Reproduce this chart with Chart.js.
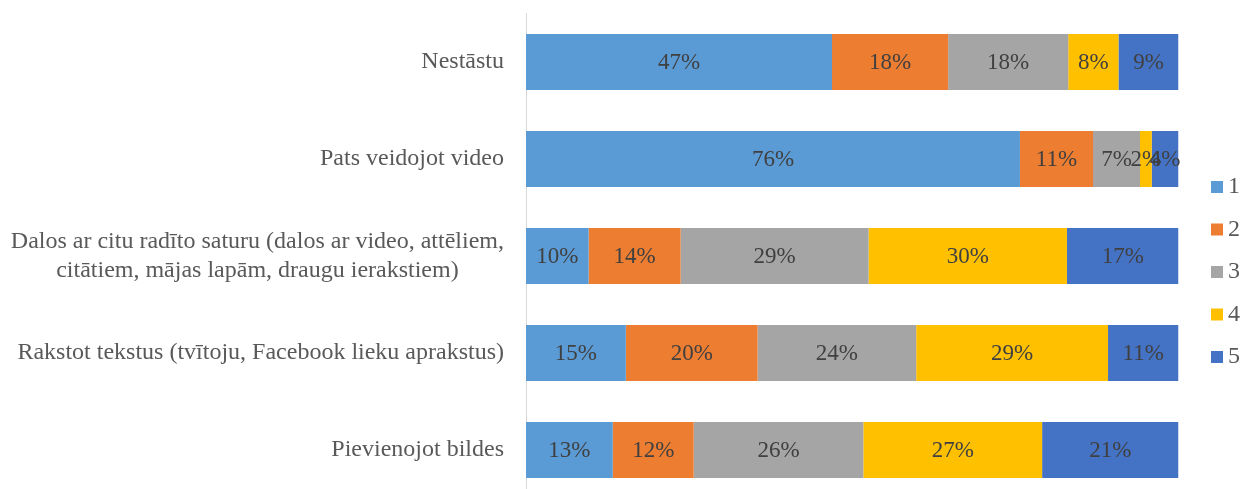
<!DOCTYPE html>
<html><head><meta charset="utf-8">
<script src="https://cdn.jsdelivr.net/npm/chart.js@4.4.1/dist/chart.umd.min.js"></script>
<style>html,body{margin:0;padding:0;overflow:hidden;background:#fff}#wrap{width:1243px;height:500px;position:relative}</style>
</head><body><div id="wrap"><canvas id="c"></canvas></div>
<script>
const categories = [
  'Nestāstu',
  'Pats veidojot video',
  ['Dalos ar citu radīto saturu (dalos ar video, attēliem,', 'citātiem, mājas lapām, draugu ierakstiem)'],
  'Rakstot tekstus (tvītoju, Facebook lieku aprakstus)',
  'Pievienojot bildes'
];
const seriesNames = ['1', '2', '3', '4', '5'];
const s1 = [46.9, 75.7, 9.6, 15.3, 13.3];
const s2 = [17.8, 11.2, 14.1, 20.2, 12.4];
const s3 = [18.4, 7.2, 28.8, 24.3, 26.0];
const s4 = [7.7, 1.8, 30.4, 29.4, 27.4];
const s5 = [9.2, 4.1, 17.1, 10.8, 20.9];
const seriesValues = [s1, s2, s3, s4, s5];
const colors = ['#5B9BD5', '#ED7D31', '#A5A5A5', '#FFC000', '#4472C4'];

const FONT = "'Liberation Serif', 'Times New Roman', serif";
const LABEL_RIGHT = 504;
const LINE_H = 29;

const labelPlugin = {
  id: 'labelPlugin',
  afterDatasetsDraw(chart) {
    const ctx = chart.ctx;
    ctx.save();
    ctx.font = '23px ' + FONT;
    ctx.textAlign = 'center';
    ctx.textBaseline = 'middle';
    ctx.fillStyle = '#404040';
    chart.data.datasets.forEach((ds, di) => {
      const meta = chart.getDatasetMeta(di);
      meta.data.forEach((el, i) => {
        ctx.fillText(Math.round(ds.data[i]) + '%', (el.x + el.base) / 2, el.y + 1);
      });
    });
    const yScale = chart.scales.y;
    ctx.font = '24px ' + FONT;
    ctx.fillStyle = '#595959';
    categories.forEach((lab, i) => {
      const lines = Array.isArray(lab) ? lab : [lab];
      const w = Math.max(...lines.map(l => ctx.measureText(l).width));
      const cx = LABEL_RIGHT - w / 2;
      const yc = yScale.getPixelForValue(i);
      lines.forEach((l, j) => ctx.fillText(l, cx, yc + (j - (lines.length - 1) / 2) * LINE_H));
    });
    ctx.restore();
  }
};

new Chart(document.getElementById('c'), {
  type: 'bar',
  data: {
    labels: categories,
    datasets: seriesValues.map((v, i) => ({
      label: seriesNames[i],
      data: v,
      backgroundColor: colors[i],
      borderWidth: 0,
      barPercentage: 0.575,
      categoryPercentage: 1
    }))
  },
  options: {
    indexAxis: 'y',
    responsive: true,
    maintainAspectRatio: false,
    animation: false,
    devicePixelRatio: 1,
    layout: { padding: { top: 13.5, bottom: 1.5, left: 0, right: 3 } },
    scales: {
      x: { stacked: true, min: 0, max: 100, display: false },
      y: {
        stacked: true,
        grid: { display: false },
        ticks: { display: false },
        border: { display: true, color: '#D9D9D9', width: 1 },
        afterFit: s => { s.width = 526; }
      },
      yR: {
        type: 'linear',
        position: 'right',
        display: true,
        grid: { display: false },
        ticks: { display: false },
        border: { display: false },
        afterFit: s => { s.width = 14; }
      }
    },
    plugins: {
      tooltip: { enabled: false },
      legend: {
        position: 'right',
        align: 'start',
        maxWidth: 47.5,
        title: { display: true, text: '', padding: { top: 133, bottom: 0 }, font: { size: 10, lineHeight: 1 } },
        labels: {
          boxWidth: 12,
          boxHeight: 12,
          padding: 18.5,
          textAlign: 'right',
          color: '#595959',
          font: { family: FONT, size: 24 }
        }
      }
    }
  },
  plugins: [labelPlugin]
});
</script></body></html>
